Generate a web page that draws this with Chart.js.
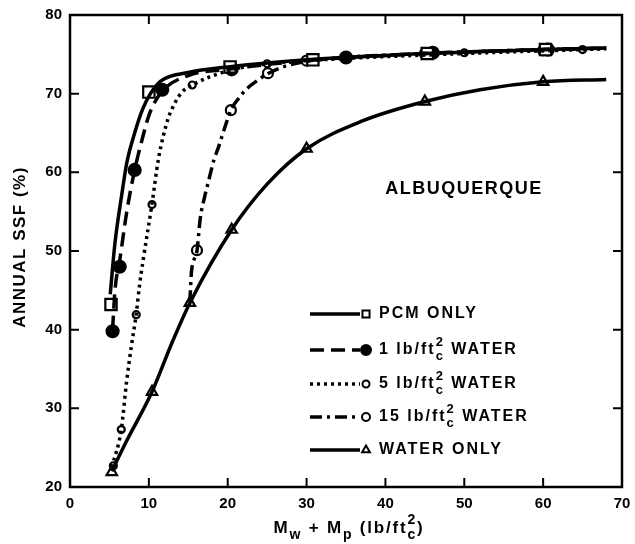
<!DOCTYPE html>
<html>
<head>
<meta charset="utf-8">
<script src="https://cdn.jsdelivr.net/npm/chart.js@4.4.0/dist/chart.umd.min.js"></script>
<style>body{margin:0;background:#fff}</style>
</head>
<body>
<canvas id="myChart" width="635" height="544"></canvas>
<script>
// axis ranges / ticks
const xTicks = [0, 10, 20, 30, 40, 50, 60, 70];
const yTicks = [20, 30, 40, 50, 60, 70, 80];

// curves [x, y]
const pcmCurve = [[5.1,44.5],[5.7,51],[6.6,57.4],[7.2,61.2],[8.2,65],[9.2,68],[10.2,70],[11.5,71.6],[15,72.7],[20,73.4],[30,74.3],[45,75.1],[60,75.6],[68,75.8]];
const water1Curve = [[5.4,40],[5.7,45],[6.3,48.8],[7.2,55],[8.2,60.3],[9.1,64],[10.1,67.5],[11.7,70.3],[15,72.3],[20,73.1],[30,74.2],[45,75.1],[60,75.6],[68,75.8]];
const water5Curve = [[5.3,22.5],[6.5,27.3],[7.2,33.6],[7.8,38],[8.4,42],[8.8,45.5],[9.3,49],[10.4,56],[11.2,61.6],[12.4,66.7],[13.3,68.8],[14.2,70.2],[15.5,71.1],[20,72.9],[25,73.8],[30,74.2],[50,75.1],[65,75.6],[68,75.7]];
const water15Curve = [[15.2,43.5],[15.4,47.3],[15.7,48.8],[16.1,50],[16.5,54],[17.1,57],[17.6,59],[18.2,61.4],[18.9,63.4],[19.6,65.6],[20.4,67.9],[21.3,69.3],[22.5,70.7],[23.8,71.7],[25,72.5],[27,73.4],[30,74.1],[45,75.1],[60,75.6],[68,75.8]];
const waterOnlyCurve = [[5.3,22],[7,25.5],[10.4,32.1],[13,38.5],[15.2,43.4],[20.5,52.7],[25,58.5],[30,63],[37,66.5],[45,69],[52,70.5],[60,71.5],[68,71.8]];

// plotted markers
const pcmPts = [[5.2,43.2],[10,70.2],[20.3,73.4],[30.8,74.3],[45.3,75.1],[60.3,75.6]];
const water1Pts = [[5.4,39.8],[6.3,48],[8.2,60.3],[11.7,70.5],[20.5,73.1],[35,74.6],[46,75.2],[60.6,75.6]];
const water5Pts = [[5.5,22.7],[6.5,27.3],[8.4,41.9],[10.4,55.9],[15.5,71.1],[25,73.8],[50,75.2],[65,75.6]];
const water15Pts = [[16.1,50.1],[20.4,67.9],[25.1,72.6],[30,74.2],[45,75.1],[60,75.5]];
const waterOnlyPts = [[5.3,21.9],[10.4,32.1],[15.2,43.4],[20.5,52.7],[30,63],[45,69],[60,71.5]];

const FONT = '"Liberation Sans", Arial, sans-serif';

const series = [
  {name: ['PCM ONLY'], curve: pcmCurve, pts: pcmPts, dash: [], style: 'rect', r: 8, lr: 5, fill: '#fff'},
  {name: ['1 lb/ft', {sub: 'c', sup: '2'}, ' WATER'], curve: water1Curve, pts: water1Pts, dash: [14, 7], style: 'circle', r: 6, lr: 5, fill: '#000'},
  {name: ['5 lb/ft', {sub: 'c', sup: '2'}, ' WATER'], curve: water5Curve, pts: water5Pts, dash: [3, 4], style: 'circle', r: 3.5, lr: 3.5, fill: '#fff'},
  {name: ['15 lb/ft', {sub: 'c', sup: '2'}, ' WATER'], curve: water15Curve, pts: water15Pts, dash: [12, 5, 3, 5], style: 'circle', r: 5, lr: 4, fill: '#fff'},
  {name: ['WATER ONLY'], curve: waterOnlyCurve, pts: waterOnlyPts, dash: [], style: 'triangle', r: 6, lr: 4.5, fill: '#fff'}
];

const toXY = arr => arr.map(p => ({x: p[0], y: p[1]}));

let datasets = [];
series.forEach(s => {
  datasets.push({
    data: toXY(s.curve), showLine: true, borderColor: '#000', borderWidth: 3.5,
    borderDash: s.dash, pointRadius: 0, cubicInterpolationMode: 'monotone', fill: false
  });
});
series.forEach(s => {
  datasets.push({
    data: toXY(s.pts), showLine: false, pointStyle: s.style, pointRadius: s.r,
    pointBackgroundColor: s.fill, pointBorderColor: '#000', pointBorderWidth: 2.2
  });
});

// text with sub / superscripts
function richText(ctx, parts, x, y, size, spacing, measureOnly) {
  const x0 = x;
  ctx.textBaseline = 'middle';
  ctx.textAlign = 'left';
  parts.forEach(p => {
    if (typeof p === 'string') {
      ctx.font = 'bold ' + size + 'px ' + FONT;
      ctx.letterSpacing = spacing + 'px';
      if (!measureOnly) ctx.fillText(p, x, y);
      x += ctx.measureText(p).width;
    } else {
      ctx.font = 'bold ' + Math.round(size * 0.8) + 'px ' + FONT;
      ctx.letterSpacing = '0px';
      let w = 0;
      if (p.sup) { if (!measureOnly) ctx.fillText(p.sup, x, y - size * 0.45); w = ctx.measureText(p.sup).width; }
      if (p.sub) { if (!measureOnly) ctx.fillText(p.sub, x, y + size * 0.4); w = Math.max(w, ctx.measureText(p.sub).width); }
      x += w + spacing;
    }
  });
  ctx.letterSpacing = '0px';
  return x - x0;
}

const decor = {
  id: 'decor',
  afterDraw(chart) {
    const ctx = chart.ctx;
    const a = chart.chartArea;
    const xs = chart.scales.x, ys = chart.scales.y;
    ctx.save();
    ctx.strokeStyle = '#000';
    ctx.fillStyle = '#000';
    ctx.lineWidth = 2.5;
    ctx.setLineDash([]);
    ctx.strokeRect(a.left, a.top, a.right - a.left, a.bottom - a.top);
    // inward ticks
    ctx.lineWidth = 2;
    ctx.beginPath();
    xTicks.slice(1, -1).forEach(v => {
      const px = xs.getPixelForValue(v);
      ctx.moveTo(px, a.bottom); ctx.lineTo(px, a.bottom - 9);
      ctx.moveTo(px, a.top); ctx.lineTo(px, a.top + 9);
    });
    yTicks.slice(1, -1).forEach(v => {
      const py = ys.getPixelForValue(v);
      ctx.moveTo(a.left, py); ctx.lineTo(a.left + 9, py);
      ctx.moveTo(a.right, py); ctx.lineTo(a.right - 9, py);
    });
    ctx.stroke();

    // city label
    ctx.font = 'bold 18px ' + FONT;
    ctx.letterSpacing = '1.5px';
    ctx.textAlign = 'center';
    ctx.textBaseline = 'middle';
    ctx.fillText('ALBUQUERQUE', 464, 189);
    ctx.letterSpacing = '0px';

    // legend
    const rows = [314, 350, 384, 417, 450];
    series.forEach((s, i) => {
      const y = rows[i];
      ctx.lineWidth = 3.5;
      ctx.setLineDash(s.dash);
      ctx.beginPath(); ctx.moveTo(310, y); ctx.lineTo(360, y); ctx.stroke();
      ctx.setLineDash([]);
      ctx.fillStyle = s.fill;
      ctx.lineWidth = 2;
      Chart.helpers.drawPoint(ctx, {pointStyle: s.style, radius: s.lr, borderWidth: 2, rotation: 0}, 366, y);
      ctx.fillStyle = '#000';
      richText(ctx, s.name, 379, y, 16, 2);
    });

    // axis titles
    const xt = ['M', {sub: 'w'}, ' + M', {sub: 'p'}, ' (lb/ft', {sub: 'c', sup: '2'}, ')'];
    const w = richText(ctx, xt, 0, 0, 17, 1.8, true);
    richText(ctx, xt, 349 - w / 2, 528, 17, 1.8);

    ctx.translate(20, 247);
    ctx.rotate(-Math.PI / 2);
    ctx.font = 'bold 17px ' + FONT;
    ctx.letterSpacing = '1.5px';
    ctx.textAlign = 'center';
    ctx.textBaseline = 'middle';
    ctx.fillText('ANNUAL SSF (%)', 0, 0);
    ctx.restore();
  }
};

new Chart(document.getElementById('myChart'), {
  type: 'scatter',
  data: {datasets: datasets},
  options: {
    responsive: false,
    animation: false,
    devicePixelRatio: 1,
    layout: {padding: {top: 15, right: 13, left: 0, bottom: 0}},
    plugins: {legend: {display: false}, tooltip: {enabled: false}},
    scales: {
      x: {
        type: 'linear', min: 0, max: 70,
        afterBuildTicks: s => { s.ticks = xTicks.map(v => ({value: v})); },
        grid: {display: false}, border: {display: false},
        ticks: {color: '#000', font: {family: FONT, size: 15, weight: 'bold'}, padding: 0, maxRotation: 0},
        afterFit: s => { s.height = 57; }
      },
      y: {
        type: 'linear', min: 20, max: 80,
        afterBuildTicks: s => { s.ticks = yTicks.map(v => ({value: v})); },
        grid: {display: false}, border: {display: false},
        ticks: {color: '#000', font: {family: FONT, size: 15, weight: 'bold'}, padding: 0},
        afterFit: s => { s.width = 70; }
      }
    }
  },
  plugins: [decor]
});
</script>
</body>
</html>
